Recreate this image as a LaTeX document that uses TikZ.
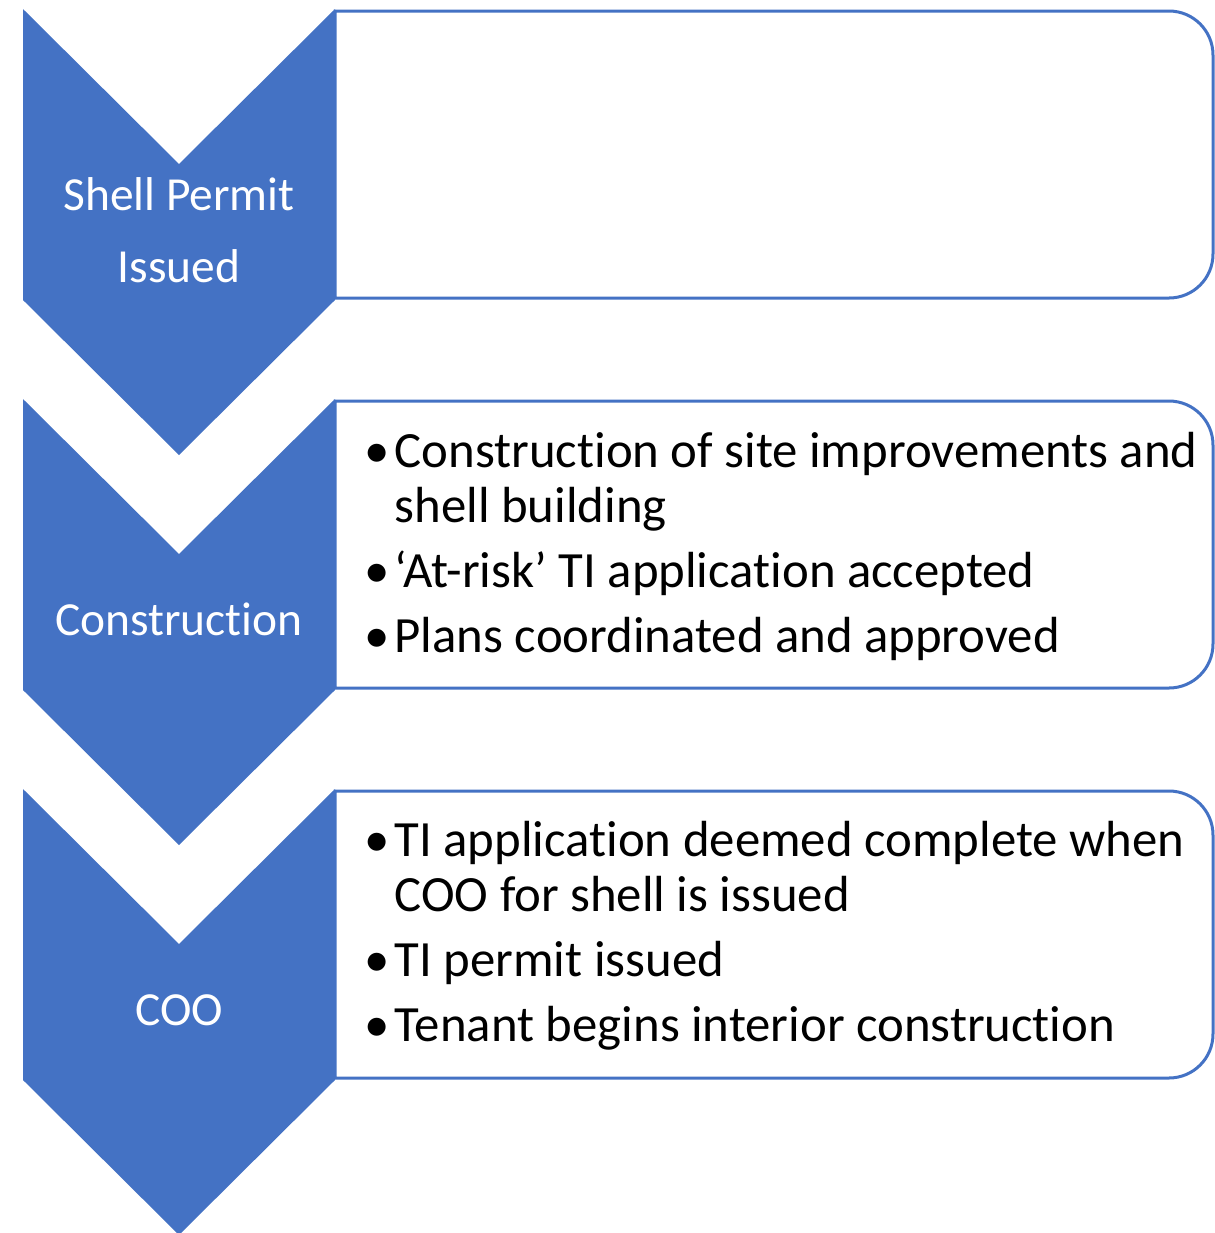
\documentclass[tikz,border=0pt]{standalone}
\usepackage{fontspec}
\setmainfont{Carlito}[Ligatures=NoCommon]
\usepackage{tikz}
\definecolor{smartblue}{HTML}{4472C4}

% bullet line with hanging indent
\newcommand{\bitem}[1]{\setlength{\parskip}{2.85pt}\hangindent=3.0mm\hangafter=1\noindent\makebox[3.0mm][l]{\textbullet}#1\par}

\tikzset{
  stage/.style={fill=smartblue},
  stagelabel/.style={text=white, align=center, inner sep=0pt, font=\fontsize{13.5}{20.5}\selectfont},
  infobox/.style={draw=smartblue, line width=0.3mm, fill=white},
  infotext/.style={anchor=base west, inner sep=0pt, text width=86mm, align=flush left, font=\fontsize{14.45}{15.65}\selectfont}
}

\begin{document}
\begin{tikzpicture}[x=0.1mm,y=-0.1mm]
\useasboundingbox (0,0) rectangle (1215,1233);
% boxes on the right, rounded on the right side only
\foreach \y in {0,390,780} {
  \draw[infobox] (335,298+\y) -- (335,11+\y) [rounded corners=4.4mm] -- (1213,11+\y) -- (1213,298+\y) [sharp corners] -- (335,298+\y) -- cycle;
}
% chevrons
\foreach \y in {0,390,780} {
  \fill[stage] (23,9+\y) -- (179,164+\y) -- (335,9+\y) -- (335,300+\y) -- (179,455+\y) -- (23,300+\y) -- cycle;
}
\node[stagelabel, anchor=center] (stage1) at (179,230) {Shell Permit\\Issued};
\node[stagelabel, anchor=base] (stage2) at (179,635) {Construction};
\node[stagelabel, anchor=base] (stage3) at (179,1025) {COO};

\node[infotext] (text2) at (364,467) {%
  \bitem{Construction of site improvements and\newline shell building}%
  \bitem{‘At-risk’ TI application accepted}%
  \bitem{Plans coordinated and approved}};
\node[infotext] (text3) at (364,856) {%
  \bitem{TI application deemed complete when\newline COO for shell is issued}%
  \bitem{TI permit issued}%
  \bitem{Tenant begins interior construction}};
\end{tikzpicture}
\end{document}
